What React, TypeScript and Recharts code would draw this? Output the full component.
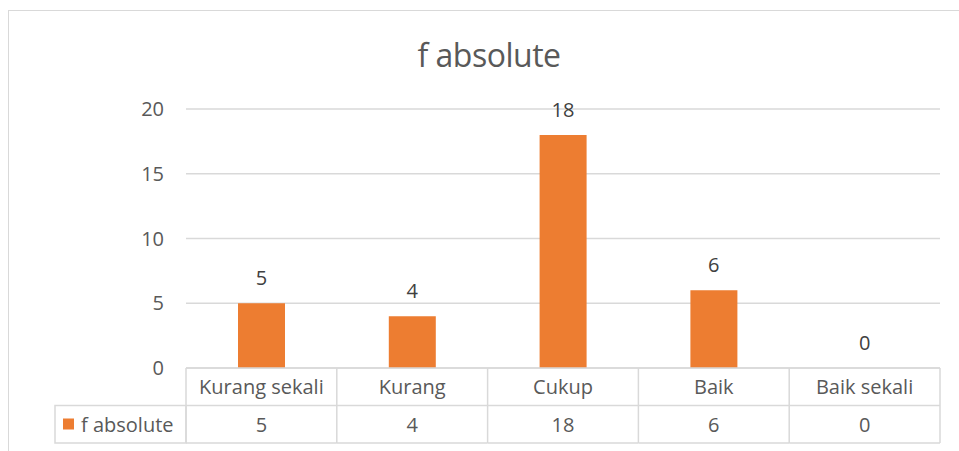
import { Bar, CartesianGrid, ComposedChart, LabelList, Line, XAxis, YAxis } from "recharts";

const categories = ["Kurang sekali", "Kurang", "Cukup", "Baik", "Baik sekali"];
const fAbsolute = [5, 4, 18, 6, 0];
const yTicks = [0, 5, 10, 15, 20];
const seriesName = "f absolute";

const data = categories.map((name, i) => ({ name, value: fAbsolute[i] }));

const W = 959;
const H = 451;
const M = { top: 109, right: 19, bottom: 8, left: 146 };
const Y_AXIS_W = 40;
const X_AXIS_H = H - M.top - M.bottom - 259;
const PLOT_LEFT = M.left + Y_AXIS_W;
const PLOT_RIGHT = W - M.right;
const PLOT_BOTTOM = M.top + 259;
const COL_W = (PLOT_RIGHT - PLOT_LEFT) / categories.length;
const ROW_H = 37.5;
const LEGEND_LEFT = 55;

const FONT = "'Open Sans', sans-serif";
const FS = 20;
const GRID = "#d9d9d9";
const TEXT = "#595959";
const ORANGE = "#ED7D31";

// each x tick draws one column of the data table underneath the plot
function TableTick(props: any) {
  const { x, payload, index } = props;
  const left = x - COL_W / 2;
  const top = PLOT_BOTTOM;
  const value = fAbsolute[index];
  return (
    <g fontFamily={FONT} fontSize={FS} fill={TEXT}>
      {index === 0 && (
        <g>
          <line x1={left} x2={left} y1={top} y2={top + ROW_H * 2} stroke={GRID} strokeWidth={1.5} />
          <rect x={LEGEND_LEFT} y={top + ROW_H} width={left - LEGEND_LEFT} height={ROW_H} fill="none" stroke={GRID} strokeWidth={1.5} />
          <rect x={LEGEND_LEFT + 8} y={top + ROW_H + 13} width={11} height={11} fill={ORANGE} />
          <text x={LEGEND_LEFT + 26} y={top + ROW_H * 1.5} dominantBaseline="central" fill={TEXT}>
            {seriesName}
          </text>
        </g>
      )}
      <line x1={left + COL_W} x2={left + COL_W} y1={top} y2={top + ROW_H * 2} stroke={GRID} strokeWidth={1.5} />
      <line x1={left} x2={left + COL_W} y1={top + ROW_H} y2={top + ROW_H} stroke={GRID} strokeWidth={1.5} />
      <line x1={left} x2={left + COL_W} y1={top + ROW_H * 2} y2={top + ROW_H * 2} stroke={GRID} strokeWidth={1.5} />
      <text x={x} y={top + ROW_H / 2} textAnchor="middle" dominantBaseline="central" fill={TEXT}>
        {payload.value}
      </text>
      <text x={x} y={top + ROW_H * 1.5} textAnchor="middle" dominantBaseline="central" fill={TEXT}>
        {value}
      </text>
    </g>
  );
}

export default function App() {
  return (
    <div
      style={{
        position: "fixed",
        left: 0,
        top: 0,
        width: W,
        height: H,
        overflow: "hidden",
        background: "#fff",
        fontFamily: FONT,
      }}
    >
      <div
        style={{
          position: "absolute",
          left: 8,
          top: 10,
          width: W + 20,
          height: H + 20,
          border: `1.5px solid ${GRID}`,
          boxSizing: "border-box",
        }}
      />
      <div
        style={{
          position: "absolute",
          left: 0,
          width: 978,
          top: 33,
          textAlign: "center",
          fontSize: 32,
          color: TEXT,
          lineHeight: "44px",
          letterSpacing: -0.5,
        }}
      >
        {seriesName}
      </div>
      <div style={{ position: "absolute", left: 0, top: 0 }}>
        <ComposedChart width={W} height={H} data={data} margin={M}>
          <CartesianGrid vertical={false} stroke={GRID} strokeWidth={1.5} />
          <XAxis
            dataKey="name"
            height={X_AXIS_H}
            axisLine={{ stroke: GRID, strokeWidth: 1.5 }}
            tickLine={false}
            interval={0}
            tick={<TableTick />}
          />
          <YAxis
            width={Y_AXIS_W}
            domain={[0, 20]}
            ticks={yTicks}
            axisLine={false}
            tickLine={false}
            tickMargin={16}
            tick={{ fill: TEXT, fontSize: FS, fontFamily: FONT }}
          />
          <Bar dataKey="value" fill={ORANGE} barSize={47} isAnimationActive={false} />
          {/* invisible line carrying the value labels, so the zero bar gets one too */}
          <Line
            dataKey="value"
            stroke="none"
            dot={false}
            activeDot={false}
            legendType="none"
            isAnimationActive={false}
          >
            <LabelList
              dataKey="value"
              position="top"
              offset={18}
              fill="#404040"
              fontSize={FS}
              fontFamily={FONT}
            />
          </Line>
        </ComposedChart>
      </div>
    </div>
  );
}
